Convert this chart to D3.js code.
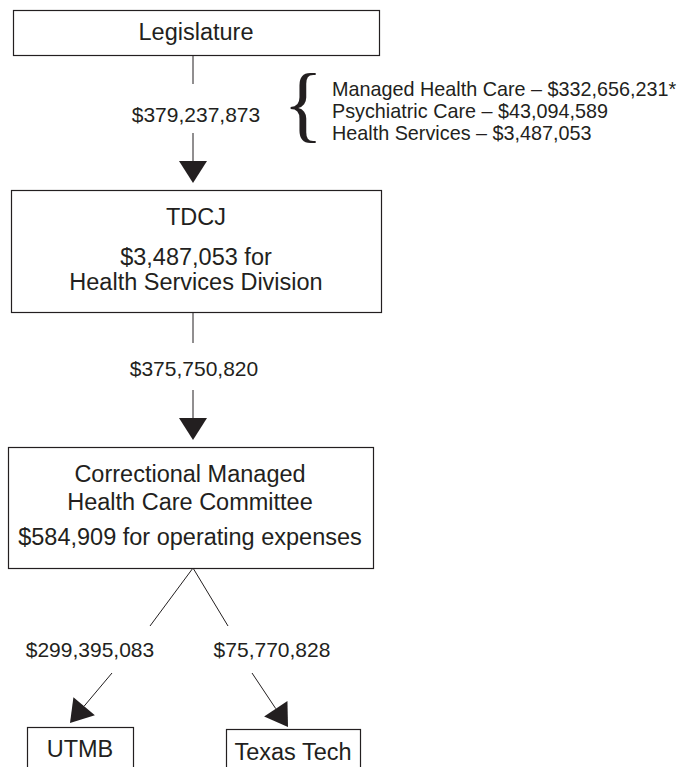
<!DOCTYPE html>
<html>
<head>
<meta charset="utf-8">
<script src="https://cdn.jsdelivr.net/npm/d3@7"></script>
<style>
  body { margin: 0; background: #fff; }
  text { font-family: "Liberation Sans", Arial, sans-serif; fill: #231f20; }
</style>
</head>
<body>
<div id="chart"></div>
<script>
// funding flow data
const boxNames = ["Legislature", "TDCJ", "CMHCC", "UTMB", "Texas Tech"];
const boxLines = [
    ["Legislature"],
    ["TDCJ", "$3,487,053 for", "Health Services Division"],
    ["Correctional Managed", "Health Care Committee", "$584,909 for operating expenses"],
    ["UTMB"],
    ["Texas Tech"]
];
const flowFrom = ["Legislature", "TDCJ", "CMHCC", "CMHCC"];
const flowTo = ["TDCJ", "CMHCC", "UTMB", "Texas Tech"];
const flowAmounts = [379237873, 375750820, 299395083, 75770828];
const breakdownItems = ["Managed Health Care", "Psychiatric Care", "Health Services"];
const breakdownValues = [332656231, 43094589, 3487053];
const breakdownNotes = ["*", "", ""];

(function () {
    const width = 680, height = 767;
    const fmt = d3.format("$,");
    const ink = "#231f20";

    const svg = d3.select("#chart")
        .append("svg")
        .attr("width", width)
        .attr("height", height);

    // box layout: x, y, w, h and text baselines
    const layout = {
        "Legislature": { x: 13, y: 10, w: 366, h: 45, cx: 196, base: [40] },
        "TDCJ": { x: 11, y: 190, w: 370, h: 122, cx: 196, base: [225, 265, 290] },
        "CMHCC": { x: 8, y: 447, w: 365, h: 121, cx: 190, base: [482, 510, 545] },
        "UTMB": { x: 27, y: 727, w: 106, h: 60, cx: 80, base: [757] },
        "Texas Tech": { x: 226, y: 729, w: 134, h: 60, cx: 293, base: [760] }
    };

    const boxes = svg.append("g")
        .selectAll("g")
        .data(boxNames.map((name, i) => ({ name: name, lines: boxLines[i], l: layout[name] })))
        .join("g");

    boxes.append("rect")
        .attr("x", d => d.l.x + 0.5)
        .attr("y", d => d.l.y + 0.5)
        .attr("width", d => d.l.w)
        .attr("height", d => d.l.h)
        .attr("fill", "#fff")
        .attr("stroke", ink)
        .attr("stroke-width", 1.2);

    boxes.selectAll("text")
        .data(d => d.lines.map((t, j) => ({ t: t, x: d.l.cx, y: d.l.base[j] })))
        .join("text")
        .attr("x", d => d.x)
        .attr("y", d => d.y)
        .attr("text-anchor", "middle")
        .style("font-size", "23.5px")
        .text(d => d.t);

    // flow paths: segment before label, label position, segment after label, arrow tip
    const flowLayout = [
        { a: [193, 55, 193, 84], label: [196, 122], b: [193, 133], tip: [193, 183] },
        { a: [193, 312, 193, 343], label: [194, 376], b: [193, 390], tip: [193, 440] },
        { a: [193, 568, 150, 626], label: [90, 657], b: [112, 673], tip: [70, 723] },
        { a: [193, 568, 228, 626], label: [272, 657], b: [252, 673], tip: [288, 727] }
    ];
    const headLen = 22, headHalf = 14;

    const flows = svg.append("g")
        .selectAll("g")
        .data(flowAmounts.map((v, i) => ({ value: v, from: flowFrom[i], to: flowTo[i], f: flowLayout[i] })))
        .join("g");

    flows.append("line")
        .attr("x1", d => d.f.a[0]).attr("y1", d => d.f.a[1])
        .attr("x2", d => d.f.a[2]).attr("y2", d => d.f.a[3])
        .attr("stroke", ink).attr("stroke-width", 1);

    flows.append("text")
        .attr("x", d => d.f.label[0])
        .attr("y", d => d.f.label[1])
        .attr("text-anchor", "middle")
        .style("font-size", "21px")
        .text(d => fmt(d.value));

    function headBase(d) {
        const dx = d.f.tip[0] - d.f.b[0], dy = d.f.tip[1] - d.f.b[1];
        const len = Math.sqrt(dx * dx + dy * dy);
        return { ux: dx / len, uy: dy / len };
    }

    flows.append("line")
        .attr("x1", d => d.f.b[0]).attr("y1", d => d.f.b[1])
        .attr("x2", d => d.f.tip[0] - headBase(d).ux * headLen)
        .attr("y2", d => d.f.tip[1] - headBase(d).uy * headLen)
        .attr("stroke", ink).attr("stroke-width", 1);

    flows.append("path")
        .attr("fill", ink)
        .attr("d", d => {
            const u = headBase(d);
            const bx = d.f.tip[0] - u.ux * headLen, by = d.f.tip[1] - u.uy * headLen;
            const px = -u.uy * headHalf, py = u.ux * headHalf;
            return `M${d.f.tip[0]},${d.f.tip[1]}L${bx + px},${by + py}L${bx - px},${by - py}Z`;
        });

    // appropriation breakdown with brace
    svg.append("text")
        .attr("x", 283)
        .attr("y", 132)
        .style("font-family", "'Liberation Serif', 'Times New Roman', serif")
        .style("font-size", "84px")
        .text("{");

    svg.append("g")
        .selectAll("text")
        .data(breakdownItems.map((k, i) => ({ k: k, v: breakdownValues[i], n: breakdownNotes[i] })))
        .join("text")
        .attr("x", 332)
        .attr("y", (d, i) => 96 + i * 22)
        .style("font-size", "19.8px")
        .text(d => `${d.k} – ${fmt(d.v)}${d.n}`);
})()
</script>
</body>
</html>
